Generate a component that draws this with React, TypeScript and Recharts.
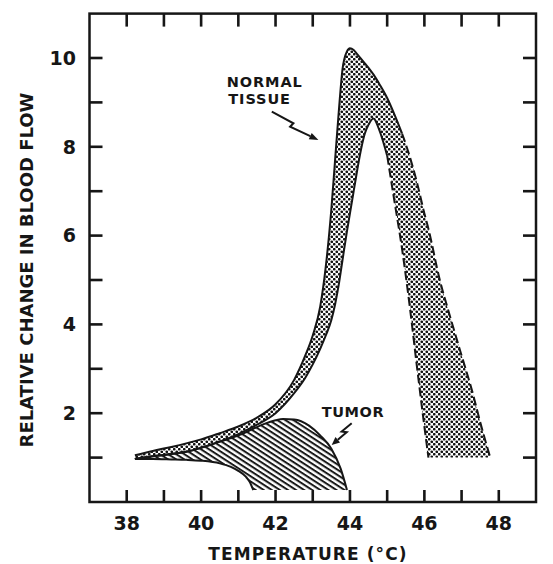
import React from 'react';
import { ComposedChart, Area, Line, XAxis, YAxis, ReferenceArea, ReferenceDot } from 'recharts';

// Normal tissue band (temperature °C, lower and upper relative blood flow)
const BAND_TEMP = [38.22, 38.7, 39.2, 39.6, 40.0, 40.5, 41.0, 41.5, 42.0, 42.5, 42.8, 43.0, 43.2, 43.35, 43.5, 43.6, 43.7, 43.8, 43.92, 44.0, 44.1, 44.2, 44.3, 44.4, 44.5, 44.63, 44.8, 45.0, 45.2, 45.4, 45.6, 45.8, 46.0, 46.11, 46.4, 46.7, 47.0, 47.3, 47.5, 47.77];
const BAND_UPPER = [1.05, 1.15, 1.24, 1.32, 1.41, 1.55, 1.7, 1.9, 2.2, 2.75, 3.3, 3.75, 4.4, 5.3, 6.6, 7.7, 8.8, 9.75, 10.15, 10.22, 10.18, 10.08, 9.98, 9.88, 9.78, 9.63, 9.4, 9.1, 8.72, 8.3, 7.8, 7.2, 6.5, 6.15, 5.05, 4.15, 3.3, 2.45, 1.8, 1.0];
const BAND_LOWER = [0.97, 1.03, 1.08, 1.13, 1.22, 1.36, 1.53, 1.74, 2.0, 2.45, 2.8, 3.1, 3.45, 3.75, 4.1, 4.45, 4.9, 5.45, 6.1, 6.5, 7.0, 7.5, 7.95, 8.3, 8.5, 8.64, 8.35, 7.8, 6.75, 5.7, 4.45, 3.05, 1.7, 1.0, 1.0, 1.0, 1.0, 1.0, 1.0, 1.0];

// Tumor region
const TUMOR_TEMP = [38.22, 38.7, 39.2, 39.6, 40.0, 40.5, 40.8, 41.0, 41.2, 41.3, 41.4, 41.7, 42.0, 42.2, 42.5, 42.9, 43.2, 43.5, 43.75, 43.92];
const TUMOR_UPPER = [0.97, 1.03, 1.08, 1.13, 1.22, 1.36, 1.44, 1.5, 1.57, 1.61, 1.65, 1.76, 1.84, 1.87, 1.86, 1.72, 1.5, 1.2, 0.75, 0.27];
const TUMOR_LOWER = [0.97, 0.97, 0.96, 0.95, 0.93, 0.87, 0.79, 0.7, 0.57, 0.46, 0.27, 0.27, 0.27, 0.27, 0.27, 0.27, 0.27, 0.27, 0.27, 0.27];

const X_TICKS = [38, 39, 40, 41, 42, 43, 44, 45, 46, 47, 48];
const X_LABELED = [38, 40, 42, 44, 46, 48];
const Y_TICKS = [1, 2, 3, 4, 5, 6, 7, 8, 9, 10];
const Y_LABELED = [2, 4, 6, 8, 10];

const X_TITLE = 'TEMPERATURE (°C)';
const Y_TITLE = 'RELATIVE CHANGE IN BLOOD FLOW';
const NORMAL_LABEL = ['NORMAL', 'TISSUE'];
const TUMOR_LABEL = 'TUMOR';

// layout
const W = 545;
const H = 556;
const M = { top: 5.6, right: 17, bottom: 0, left: 0 };
const YW = 81.5;
const XH = 62;
const PL = M.left + YW;
const PB = H - M.bottom - XH;
const INK = '#161616';
const FONT = '"DejaVu Sans", sans-serif';
const X_MIN = 37;
const X_MAX = 49;
const Y_MIN = 0;
const Y_MAX = 11;
const TICK_X_PX = 12;
const TICK_Y_PX = 13;
const TICK_W = 2.6;

const band = BAND_TEMP.map((t, i) => ({ t, range: [BAND_LOWER[i], BAND_UPPER[i]], hi: BAND_UPPER[i], lo: BAND_LOWER[i] }));
const tumor = TUMOR_TEMP.map((t, i) => ({ t, range: [TUMOR_LOWER[i], TUMOR_UPPER[i]], hi: TUMOR_UPPER[i], lo: TUMOR_LOWER[i] }));

const bandHiSolid = band.filter((d) => d.t <= 45.4);
const bandHiDash = band.filter((d) => d.t >= 45.4);
const bandLoSolid = band.filter((d) => d.t <= 45.0);
const bandLoDash = band.filter((d) => d.t >= 45.0 && d.t <= 46.11);
const tumorLoSolid = tumor.filter((d) => d.t <= 41.4);

const XTick = (props: any) => {
  const { x, payload } = props;
  const v = payload.value;
  if (!X_LABELED.includes(v)) return <g />;
  return (
    <text x={x} y={PB + 28} textAnchor="middle" fontFamily={FONT} fontWeight={700} fontSize={19} fill={INK}>
      {v}
    </text>
  );
};

const YTick = (props: any) => {
  const { y, payload } = props;
  const v = payload.value;
  if (!Y_LABELED.includes(v)) return <g />;
  return (
    <text x={PL - 13.5} y={y} dy="0.36em" textAnchor="end" fontFamily={FONT} fontWeight={700} fontSize={19} fill={INK}>
      {v}
    </text>
  );
};

const XTitle = () => (
  <text x={300} y={552} textAnchor="middle" fontFamily={FONT} fontWeight={700} fontSize={17} letterSpacing={1.1} fill={INK}>
    {X_TITLE}
  </text>
);

const YTitle = () => (
  <text transform={`translate(25, 262) rotate(-90)`} textAnchor="middle" fontFamily={FONT} fontWeight={700} fontSize={18} fill={INK}>
    {Y_TITLE}
  </text>
);

// Plot frame with inward ticks on all four sides, placed from the frame's own geometry
const FrameWithTicks = (p: any) => {
  const { x, y, width, height } = p;
  const fx = (v: number) => x + ((v - X_MIN) / (X_MAX - X_MIN)) * width;
  const fy = (v: number) => y + height - ((v - Y_MIN) / (Y_MAX - Y_MIN)) * height;
  return (
    <g>
      {X_TICKS.map((v) => (
        <g key={`x${v}`}>
          <rect x={fx(v) - TICK_W / 2} y={y + height - TICK_X_PX} width={TICK_W} height={TICK_X_PX} fill={INK} />
          <rect x={fx(v) - TICK_W / 2} y={y} width={TICK_W} height={TICK_X_PX + 1} fill={INK} />
        </g>
      ))}
      {Y_TICKS.map((v) => (
        <g key={`y${v}`}>
          <rect x={x} y={fy(v) - TICK_W / 2} width={TICK_Y_PX} height={TICK_W} fill={INK} />
          <rect x={x + width - TICK_Y_PX} y={fy(v) - TICK_W / 2} width={TICK_Y_PX} height={TICK_W} fill={INK} />
        </g>
      ))}
      <rect x={x} y={y} width={width} height={height} fill="none" stroke={INK} strokeWidth={2.5} />
    </g>
  );
};

const NormalAnno = (p: any) => {
  const { cx, cy } = p;
  return (
    <g>
      <text fontFamily={FONT} fontWeight={700} fontSize={14.5} letterSpacing={0.9} fill={INK}>
        <tspan x={cx} y={cy}>{NORMAL_LABEL[0]}</tspan>
        <tspan x={cx + 1.5} y={cy + 17}>{NORMAL_LABEL[1]}</tspan>
      </text>
      <polyline
        points={`${cx + 45},${cy + 24.4} ${cx + 66.6},${cy + 36} ${cx + 63.3},${cy + 39.4} ${cx + 83.5},${cy + 48.9}`}
        fill="none"
        stroke={INK}
        strokeWidth={2}
      />
      <polygon points={`${cx + 91.6},${cy + 52.7} ${cx + 84.9},${cy + 45.7} ${cx + 82},${cy + 52}`} fill={INK} />
    </g>
  );
};

const TumorAnno = (p: any) => {
  const { cx, cy } = p;
  return (
    <g>
      <text x={cx} y={cy} fontFamily={FONT} fontWeight={700} fontSize={14.5} letterSpacing={0.6} fill={INK}>
        {TUMOR_LABEL}
      </text>
      <polyline
        points={`${cx + 30},${cy + 6} ${cx + 20},${cy + 14.4} ${cx + 25},${cy + 15} ${cx + 16.1},${cy + 22.5}`}
        fill="none"
        stroke={INK}
        strokeWidth={2}
      />
      <polygon points={`${cx + 10},${cy + 27.7} ${cx + 13.8},${cy + 19.9} ${cx + 18.4},${cy + 25.2}`} fill={INK} />
    </g>
  );
};

const lineProps = {
  type: 'monotone' as const,
  stroke: INK,
  strokeWidth: 2,
  dot: false,
  activeDot: false,
  isAnimationActive: false,
  legendType: 'none' as const,
};

export default function App() {
  return (
    <div style={{ width: W, height: H, background: '#fff' }}>
      <ComposedChart width={W} height={H} margin={M}>
        <defs>
          <pattern id="dots" width={5} height={5} patternUnits="userSpaceOnUse">
            <rect width={5} height={5} fill="#fff" />
            <circle cx={1.25} cy={1.25} r={1.35} fill="#151515" />
            <circle cx={3.75} cy={3.75} r={1.35} fill="#151515" />
          </pattern>
          <pattern id="hatch" width={10} height={4.4} patternUnits="userSpaceOnUse" patternTransform="rotate(33)">
            <rect width={10} height={4.4} fill="#fff" />
            <rect y={0} width={10} height={2} fill="#1a1a1a" />
          </pattern>
        </defs>
        <XAxis
          dataKey="t"
          type="number"
          domain={[X_MIN, X_MAX]}
          ticks={X_TICKS}
          allowDataOverflow
          height={XH}
          axisLine={false}
          tickLine={false}
          tickSize={0}
          tick={<XTick />}
          interval={0}
          label={<XTitle />}
        />
        <YAxis
          type="number"
          domain={[Y_MIN, Y_MAX]}
          ticks={Y_TICKS}
          allowDataOverflow
          width={YW}
          axisLine={false}
          tickLine={false}
          tickSize={0}
          tick={<YTick />}
          interval={0}
          label={<YTitle />}
        />
        <Area data={tumor} dataKey="range" type="monotone" stroke="none" fill="url(#hatch)" fillOpacity={1} isAnimationActive={false} activeDot={false} />
        <Area data={band} dataKey="range" type="monotone" stroke="none" fill="url(#dots)" fillOpacity={1} isAnimationActive={false} activeDot={false} />
        <Line {...lineProps} data={tumor} dataKey="hi" />
        <Line {...lineProps} data={tumorLoSolid} dataKey="lo" />
        <Line {...lineProps} data={bandHiSolid} dataKey="hi" />
        <Line {...lineProps} data={bandHiDash} dataKey="hi" strokeDasharray="9 4" />
        <Line {...lineProps} data={bandLoSolid} dataKey="lo" />
        <Line {...lineProps} data={bandLoDash} dataKey="lo" strokeDasharray="9 4" />
        <ReferenceArea x1={X_MIN} x2={X_MAX} y1={Y_MIN} y2={Y_MAX} ifOverflow="visible" shape={(p: any) => <FrameWithTicks {...p} />} />
        <ReferenceDot x={40.69} y={9.34} r={0} shape={(p: any) => <NormalAnno cx={p.cx} cy={p.cy} />} />
        <ReferenceDot x={43.24} y={1.91} r={0} shape={(p: any) => <TumorAnno cx={p.cx} cy={p.cy} />} />
      </ComposedChart>
    </div>
  );
}
